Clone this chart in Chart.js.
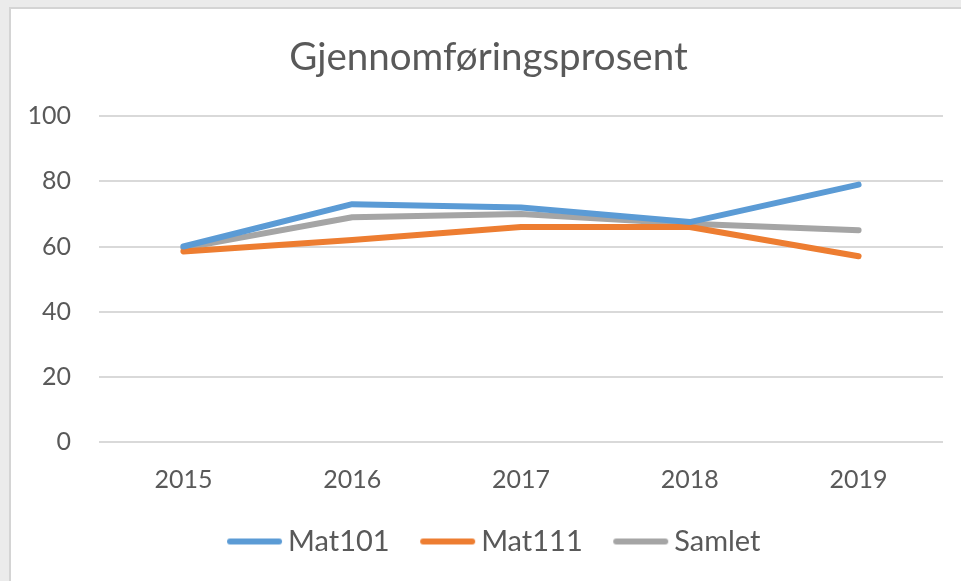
<!DOCTYPE html>
<html>
<head>
<meta charset="utf-8">
<script src="https://cdn.jsdelivr.net/npm/chart.js@4.4.1/dist/chart.umd.min.js"></script>
<style>
  html, body { margin: 0; padding: 0; background: #ebebeb; width: 961px; height: 581px; overflow: hidden; }
  #panel { position: absolute; left: 9px; top: 7px; width: 960px; height: 580px; background: #ffffff; border-left: 2px solid #d4d4d4; border-top: 2px solid #d4d4d4; }
  #wrap { position: absolute; left: 0; top: 0; width: 961px; height: 581px; }
</style>
</head>
<body>
<div id="panel"></div>
<div id="wrap"><canvas id="c" width="961" height="581"></canvas></div>
<script>
const categories = ['2015', '2016', '2017', '2018', '2019'];
const mat101 = [60, 73, 72, 67.5, 79];
const mat111 = [58.5, 62, 66, 66, 57];
const samlet = [59.5, 69, 70, 67, 65];
const yTicks = [0, 20, 40, 60, 80, 100];
const chartTitle = 'Gjennomføringsprosent';

const textColor = '#595959';
const fontFamily = 'Lato, "Open Sans", sans-serif';
const lineW = 6;

// legend sample: a rounded line drawn into a small canvas, shifted so it sits next to the text
function legendLine(color) {
  const c = document.createElement('canvas');
  c.width = 66; c.height = 10;
  const g = c.getContext('2d');
  g.strokeStyle = color; g.lineWidth = lineW; g.lineCap = 'round';
  g.beginPath(); g.moveTo(13, 5); g.lineTo(62, 5); g.stroke();
  return c;
}

function ds(label, data, color) {
  return {
    label, data,
    borderColor: color, backgroundColor: color,
    borderWidth: lineW, borderCapStyle: 'round', borderJoinStyle: 'round',
    pointRadius: 0, pointHoverRadius: 0, tension: 0, fill: false,
    pointStyle: legendLine(color)
  };
}

// nudge the title and legend boxes horizontally (the Excel chart centres them slightly right)
const nudge = {
  id: 'nudge',
  afterLayout(chart) {
    if (chart.titleBlock) { chart.titleBlock.left += 22; }
    if (chart.legend) { chart.legend.left += 16; chart.legend.right += 16; }
  }
};

new Chart(document.getElementById('c'), {
  type: 'line',
  data: {
    labels: categories,
    datasets: [
      ds('Mat101', mat101, '#5b9bd5'),
      ds('Mat111', mat111, '#ed7d31'),
      ds('Samlet', samlet, '#a5a5a5')
    ]
  },
  plugins: [nudge],
  options: {
    responsive: false,
    animation: false,
    devicePixelRatio: 1,
    layout: { padding: { left: 12, right: 18, top: 12, bottom: 15 } },
    plugins: {
      title: {
        display: true, text: chartTitle, color: textColor,
        font: { family: fontFamily, size: 38.5, weight: 'normal', lineHeight: 1.2 },
        padding: { top: 22, bottom: 36 }
      },
      legend: {
        position: 'bottom',
        labels: {
          color: textColor,
          font: { family: fontFamily, size: 29 },
          usePointStyle: true, pointStyleWidth: 47,
          boxHeight: 10, padding: 30
        }
      },
      tooltip: { enabled: false }
    },
    scales: {
      x: {
        offset: true,
        grid: { display: false, drawTicks: false },
        border: { display: false },
        ticks: { color: textColor, font: { family: fontFamily, size: 25 }, padding: 23, maxRotation: 0 },
        afterFit: (s) => { s.height = 55; }
      },
      y: {
        min: 0, max: 100,
        afterBuildTicks: (s) => { s.ticks = yTicks.map(v => ({ value: v })); },
        afterFit: (s) => { s.width = 87; },
        grid: { color: '#d9d9d9', lineWidth: 2, drawTicks: false },
        border: { display: false },
        ticks: { color: textColor, font: { family: fontFamily, size: 25 }, padding: 28 }
      }
    }
  }
});
</script>
</body>
</html>
